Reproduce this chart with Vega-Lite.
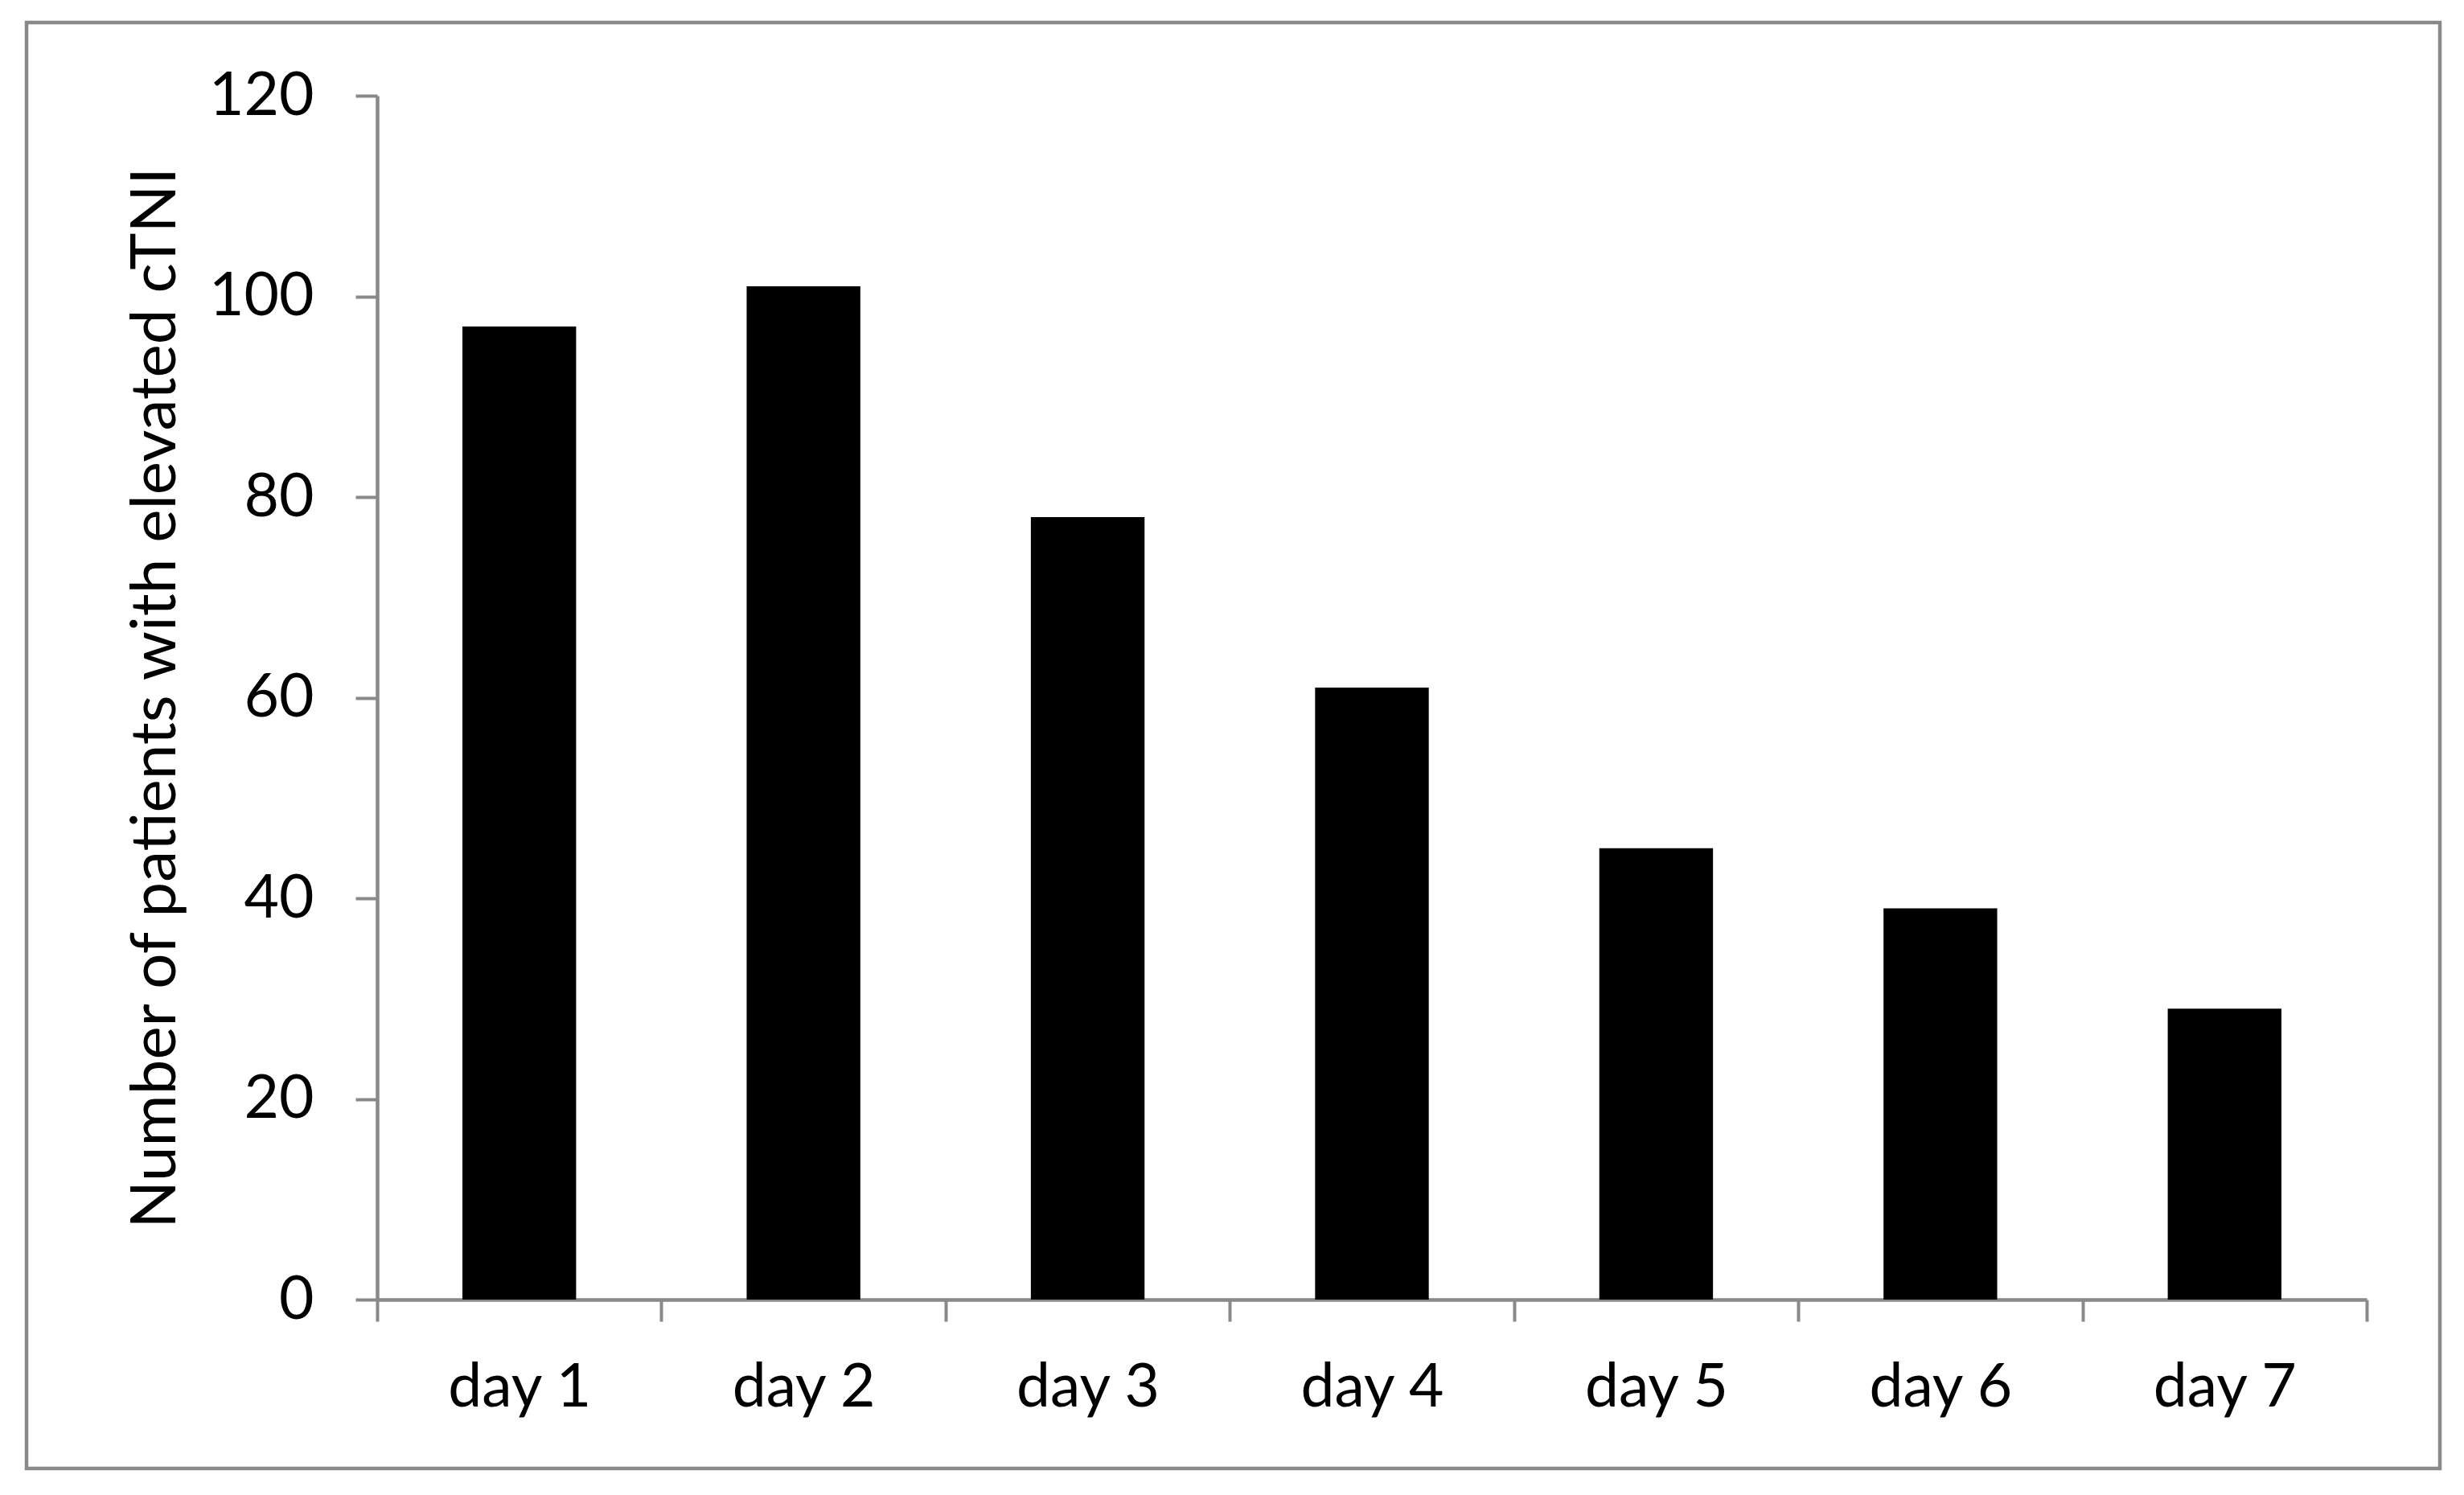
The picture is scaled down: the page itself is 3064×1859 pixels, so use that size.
{
  "$schema": "https://vega.github.io/schema/vega-lite/v6.json",
  "width": 3001,
  "height": 1798,
  "autosize": {"type": "none"},
  "padding": {"left": 33, "top": 28, "right": 30, "bottom": 33},
  "background": "white",
  "config": {
    "view": {"stroke": "#898989", "strokeWidth": 4.5, "fill": "white"},
    "font": "Lato"
  },
  "data": {
    "values": [
      {"day": "day 1", "count": 97},
      {"day": "day 2", "count": 101},
      {"day": "day 3", "count": 78},
      {"day": "day 4", "count": 61},
      {"day": "day 5", "count": 45},
      {"day": "day 6", "count": 39},
      {"day": "day 7", "count": 29}
    ]
  },
  "mark": {"type": "bar", "color": "black", "width": {"band": 0.4}},
  "encoding": {
    "x": {
      "field": "day",
      "type": "nominal",
      "sort": null,
      "scale": {"range": [436, 2910], "paddingInner": 0, "paddingOuter": 0},
      "axis": {
        "title": null,
        "labelAngle": 0,
        "offset": -210,
        "tickBand": "extent",
        "tickSize": 27,
        "tickWidth": 4,
        "tickColor": "#898989",
        "domainColor": "#898989",
        "domainWidth": 4.5,
        "labelFont": "Lato",
        "labelFontSize": 75,
        "labelColor": "black",
        "labelPadding": 46,
        "grid": false
      }
    },
    "y": {
      "field": "count",
      "type": "quantitative",
      "scale": {"domain": [0, 120], "range": [1588, 91], "nice": false},
      "axis": {
        "title": "Number of patients  with elevated cTNI",
        "titleFont": "Lato",
        "titleFontSize": 78,
        "titleFontWeight": "normal",
        "titleColor": "black",
        "titlePadding": 36,
        "values": [0, 20, 40, 60, 80, 100, 120],
        "offset": -436,
        "tickSize": 27,
        "tickWidth": 4,
        "tickColor": "#898989",
        "domainColor": "#898989",
        "domainWidth": 4.5,
        "labelFont": "Lato",
        "labelFontSize": 75,
        "labelColor": "black",
        "labelPadding": 52,
        "grid": false
      }
    }
  }
}
